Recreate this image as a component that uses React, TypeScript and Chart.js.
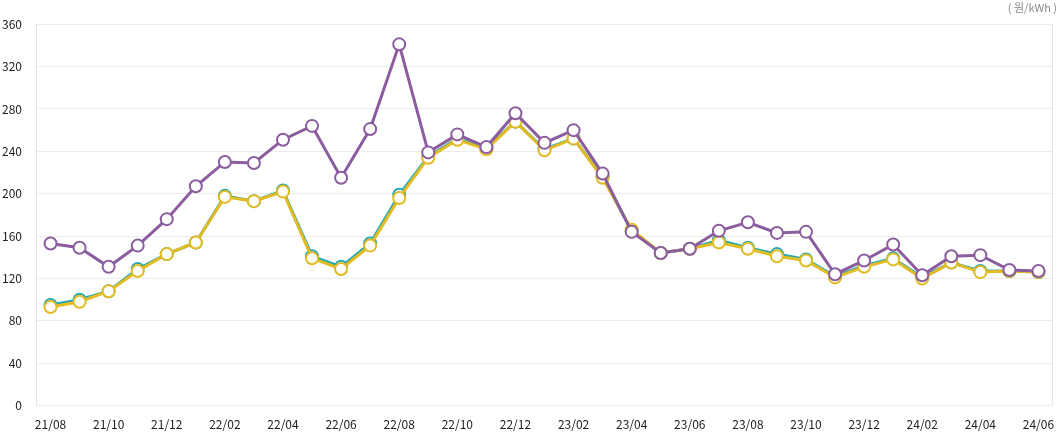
import React, { useEffect, useRef } from "react";
import { Chart, registerables } from "chart.js";

Chart.register(...registerables);

const months = [
  "21/08", "21/09", "21/10", "21/11", "21/12",
  "22/01", "22/02", "22/03", "22/04", "22/05", "22/06", "22/07", "22/08", "22/09", "22/10", "22/11", "22/12",
  "23/01", "23/02", "23/03", "23/04", "23/05", "23/06", "23/07", "23/08", "23/09", "23/10", "23/11", "23/12",
  "24/01", "24/02", "24/03", "24/04", "24/05", "24/06",
];

const purpleSeries = [
  153, 149, 131, 151, 176,
  207, 230, 229, 251, 264, 215, 261, 341, 239, 256, 244, 276,
  248, 260, 219, 164, 144, 148, 165, 173, 163, 164, 124, 137,
  152, 123, 141, 142, 128, 127,
];

const tealSeries = [
  95, 100, 108, 129, 143,
  154, 198, 193, 203, 141, 131, 153, 199, 235, 252, 243, 268,
  242, 252, 216, 165, 144, 148, 156, 149, 143, 138, 122, 132,
  139, 121, 135, 127, 127, 126,
];

const yellowSeries = [
  93, 98, 108, 127, 143,
  154, 197, 193, 202, 139, 129, 151, 196, 234, 251, 242, 268,
  241, 252, 215, 166, 144, 148, 154, 148, 141, 137, 121, 131,
  138, 120, 135, 126, 127, 126,
];

const yTicks = [0, 40, 80, 120, 160, 200, 240, 280, 320, 360];

const unitLabel = "( 원/kWh )";

const FONT = "'Noto Sans CJK KR', 'Noto Sans', sans-serif";

const edgeLines = {
  id: "edgeLines",
  beforeDatasetsDraw(chart: any) {
    const { ctx, chartArea } = chart;
    ctx.save();
    ctx.strokeStyle = "#e6e6e6";
    ctx.lineWidth = 1;
    ctx.beginPath();
    ctx.moveTo(Math.round(chartArea.left) + 0.5, chartArea.top);
    ctx.lineTo(Math.round(chartArea.left) + 0.5, chartArea.bottom);
    ctx.moveTo(Math.round(chartArea.right) - 0.5, chartArea.top);
    ctx.lineTo(Math.round(chartArea.right) - 0.5, chartArea.bottom);
    ctx.stroke();
    ctx.restore();
  },
};

function makeDataset(label: string, data: number[], color: string) {
  return {
    label,
    data,
    borderColor: color,
    backgroundColor: "#ffffff",
    borderWidth: 3,
    pointRadius: 6,
    pointHoverRadius: 6,
    pointBorderWidth: 2,
    pointBorderColor: color,
    pointBackgroundColor: "#ffffff",
    tension: 0,
    fill: false,
  };
}

export default function App() {
  const ref = useRef<HTMLCanvasElement | null>(null);

  useEffect(() => {
    if (!ref.current) return;
    const chart = new Chart(ref.current, {
      type: "line",
      data: {
        labels: months,
        datasets: [
          makeDataset("purple", purpleSeries, "#8b5d9f"),
          makeDataset("yellow", yellowSeries, "#e3bb22"),
          makeDataset("teal", tealSeries, "#26a9b5"),
        ],
      },
      options: {
        animation: false,
        responsive: false,
        maintainAspectRatio: false,
        layout: { padding: { left: 0, right: 4, top: 0, bottom: 5 } },
        plugins: {
          legend: { display: false },
          tooltip: { enabled: false },
          title: {
            display: true,
            text: unitLabel,
            align: "end",
            color: "#8a8a8a",
            font: { family: FONT, size: 11, weight: "normal" },
            padding: { top: 1, bottom: 10 },
          },
        },
        scales: {
          x: {
            offset: true,
            grid: { display: false },
            border: { display: false },
            ticks: {
              autoSkip: false,
              maxRotation: 0,
              color: "#222",
              padding: 4,
              font: { family: FONT, size: 12 },
              callback: (_v: any, i: number) => (i % 2 === 0 ? months[i] : ""),
            },
          },
          y: {
            min: 0,
            max: 360,
            afterBuildTicks: (axis: any) => {
              axis.ticks = yTicks.map((v) => ({ value: v }));
            },
            afterFit: (axis: any) => {
              axis.width = 36;
            },
            grid: { color: "#ececec", drawTicks: false },
            border: { display: false },
            ticks: {
              color: "#222",
              padding: 14,
              font: { family: FONT, size: 12 },
            },
          },
        },
      },
      plugins: [edgeLines],
    });
    return () => chart.destroy();
  }, []);

  return (
    <div style={{ position: "absolute", left: 0, top: 0, width: 1061, height: 441, background: "#fff" }}>
      <canvas ref={ref} width={1061} height={441} style={{ width: 1061, height: 441 }} />
    </div>
  );
}
